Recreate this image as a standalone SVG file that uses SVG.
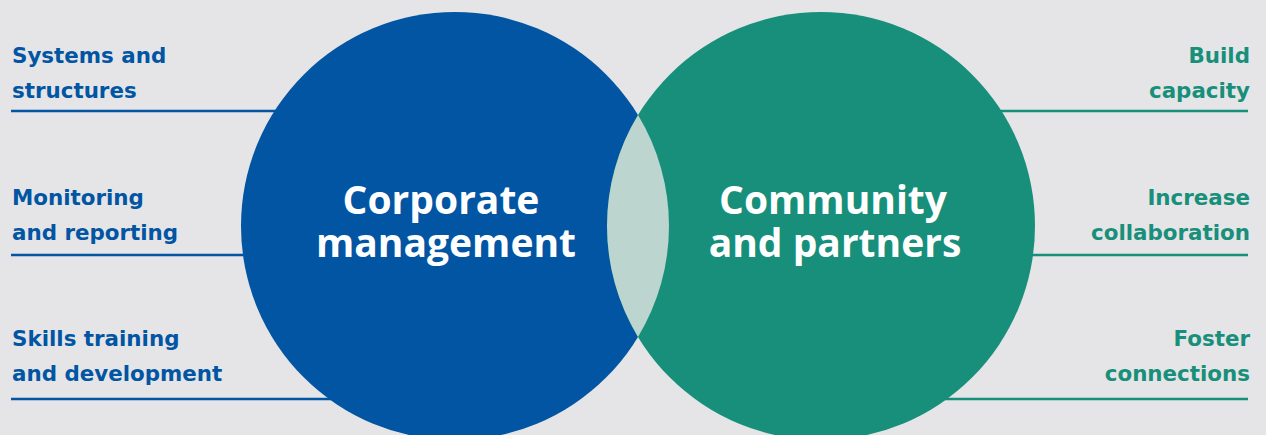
<svg xmlns="http://www.w3.org/2000/svg" width="1266" height="435" viewBox="0 0 1266 435">
<style>
.bg{fill:#E5E5E7}
.lbl{font-family:"DejaVu Sans","Open Sans",sans-serif;font-weight:700;font-size:21.4px}
.lb{fill:#0155A3}
.lg{fill:#178F7A;text-anchor:end}
.big{font-family:"Open Sans","DejaVu Sans",sans-serif;font-weight:700;font-size:39px;fill:#FFFFFF;text-anchor:middle}
.ln{stroke-width:2.5;fill:none}
.lnb{stroke:#0155A3}
.lng{stroke:#178F7A}
</style>
<rect class="bg" x="0" y="0" width="1266" height="435"/>
<g id="connectors">
<line class="ln lnb" x1="11" y1="111" x2="455" y2="111"/>
<line class="ln lnb" x1="11" y1="255" x2="455" y2="255"/>
<line class="ln lnb" x1="11" y1="399" x2="455" y2="399"/>
<line class="ln lng" x1="821" y1="111" x2="1248" y2="111"/>
<line class="ln lng" x1="821" y1="255" x2="1248" y2="255"/>
<line class="ln lng" x1="821" y1="399" x2="1248" y2="399"/>
</g>
<g id="corporate">
<circle cx="455" cy="226" r="214" fill="#0155A3"/>
<text class="big" x="441" y="214">Corporate</text>
<text class="big" x="446" y="257">management</text>
</g>
<g id="community">
<circle cx="821" cy="226" r="214" fill="#178F7A"/>
<text class="big" x="833" y="214">Community</text>
<text class="big" x="835" y="257">and partners</text>
</g>
<g id="overlap">
<path d="M638,115.06 A214,214 0 0,1 638,336.94 A214,214 0 0,1 638,115.06 Z" fill="#BCD5CF"/>
</g>
<g id="systems">
<text class="lbl lb" x="12" y="63">Systems and</text>
<text class="lbl lb" x="12" y="98">structures</text>
</g>
<g id="monitoring">
<text class="lbl lb" x="12" y="205">Monitoring</text>
<text class="lbl lb" x="12" y="240">and reporting</text>
</g>
<g id="skills">
<text class="lbl lb" x="12" y="346">Skills training</text>
<text class="lbl lb" x="12" y="381">and development</text>
</g>
<g id="build">
<text class="lbl lg" x="1250" y="63">Build</text>
<text class="lbl lg" x="1250" y="98">capacity</text>
</g>
<g id="increase">
<text class="lbl lg" x="1250" y="205">Increase</text>
<text class="lbl lg" x="1250" y="240">collaboration</text>
</g>
<g id="foster">
<text class="lbl lg" x="1250" y="346">Foster</text>
<text class="lbl lg" x="1250" y="381">connections</text>
</g>
</svg>
